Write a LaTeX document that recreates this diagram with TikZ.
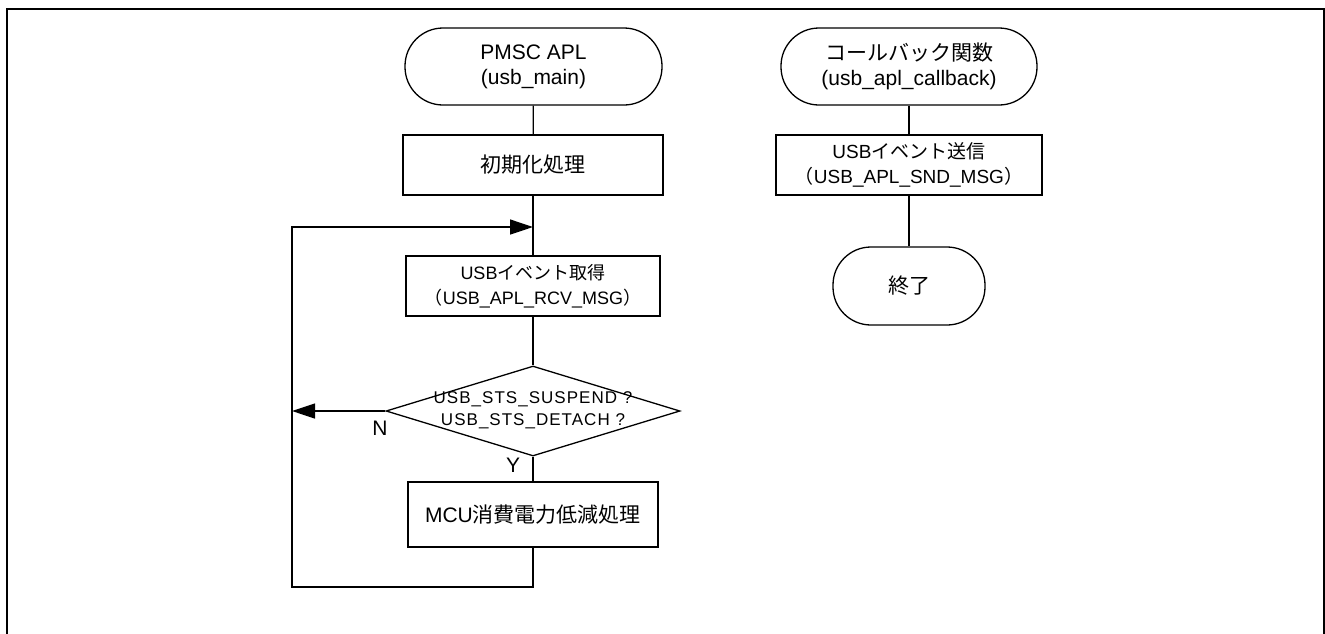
\documentclass[tikz,border=0pt]{standalone}
\usepackage{fontspec}
\setmainfont{Liberation Sans}
\newfontfamily\cjk{Noto Sans CJK JP}
\newfontfamily\diafont[LetterSpace=6]{Liberation Sans}
\usetikzlibrary{arrows.meta,shapes.geometric}
\begin{document}
\begin{tikzpicture}[x=1pt,y=-1pt,
  line width=1.3pt,
  term/.style={draw, rectangle, rounded corners=38pt, minimum width=257pt, minimum height=77pt, align=center, inner sep=0pt, font=\fontsize{21}{25}\selectfont},
  procbox/.style={draw, rectangle, align=center, inner sep=0pt, font=\fontsize{21}{25}\selectfont},
  dia/.style={draw, diamond, minimum width=294pt, minimum height=90pt, inner sep=0pt},
  lbl/.style={font=\fontsize{21}{25}\selectfont, inner sep=0pt},
  arr/.style={-{Triangle[length=23pt,width=15pt]}},
]
\useasboundingbox (0,0) rectangle (1325,633);
% frame
\draw[line width=2pt] (7,640) -- (7,9) -- (1323.5,9) -- (1323.5,640);

% left flow
\node[term] (pmsc) at (533.5,66.5) {PMSC APL\\(usb\_main)};
\node[procbox, minimum width=260pt, minimum height=60pt] (init) at (533,165) {\cjk 初期化処理};
\node[procbox, minimum width=254pt, minimum height=60pt, font=\fontsize{18}{25}\selectfont] (rcv) at (533,286) {USB{\cjk イベント取得}\\{\cjk （}USB\_APL\_RCV\_MSG{\cjk ）}};
\node[dia] (dec) at (533,411) {};
\node[font=\diafont\fontsize{17}{22}\selectfont, align=center, inner sep=0pt] (dectxt) at (533,410) {USB\_STS\_SUSPEND ?\\USB\_STS\_DETACH ?};
\node[procbox, minimum width=250pt, minimum height=65pt] (mcu) at (533,514.5) {MCU{\cjk 消費電力低減処理}};

% right flow
\node[term, minimum width=256pt] (cb) at (909,66.5) {{\cjk コールバック関数}\\(usb\_apl\_callback)};
\node[procbox, minimum width=266pt, minimum height=60pt, font=\fontsize{19}{25}\selectfont] (snd) at (909,165) {USB{\cjk イベント送信}\\{\cjk （}USB\_APL\_SND\_MSG{\cjk ）}};
\node[term, minimum width=152pt, minimum height=78pt] (end) at (909,286) {\cjk 終了};

% connectors
\coordinate (join) at (533,227);
\coordinate (lt) at (292,227);
\coordinate (lb) at (292,587);
\coordinate (mb) at (533,587);
\coordinate (nend) at (292,411);
\draw (pmsc) -- (init);
\draw (init) -- (rcv);
\draw (rcv) -- (dec);
\draw (dec) -- (mcu);
\draw[arr] (mcu.south) -- (mb) -- (lb) -- (lt) -- (join);
\draw[arr] (dec.west) -- (nend);
\draw (cb) -- (snd);
\draw (snd) -- (end);

% labels
\node[lbl] (nlbl) at (380,428) {N};
\node[lbl] (ylbl) at (513,465) {Y};
\end{tikzpicture}
\end{document}
